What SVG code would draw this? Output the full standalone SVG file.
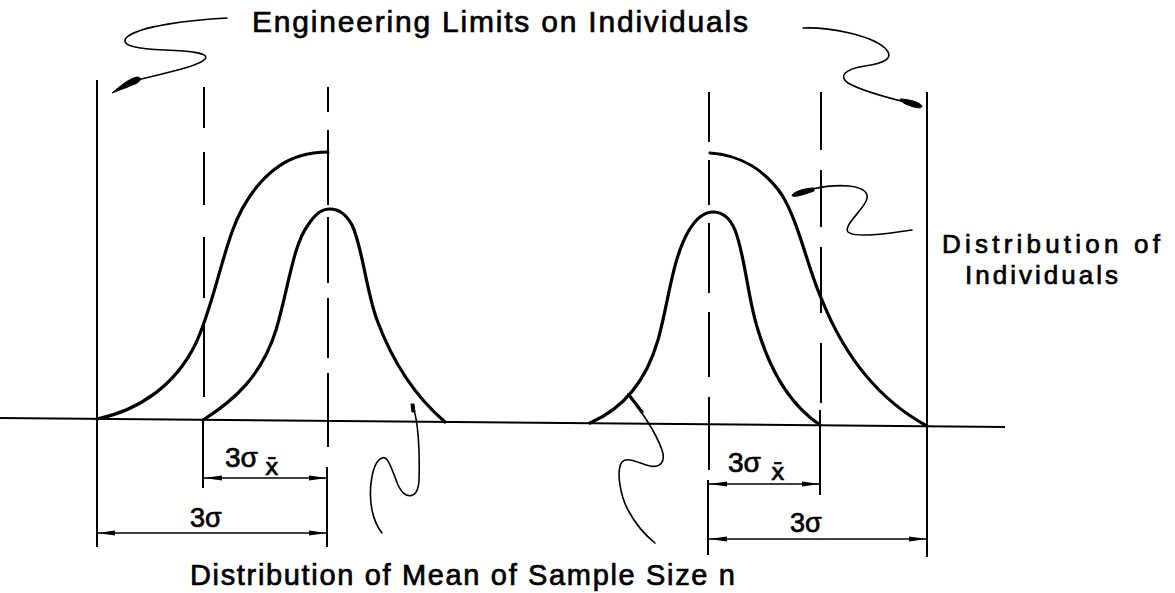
<svg xmlns="http://www.w3.org/2000/svg" width="1175" height="593" viewBox="0 0 1175 593">
  <defs>
    <style>
      .curve { fill: none; stroke: #000; stroke-width: 3.2; stroke-linecap: round; }
      .vline { stroke: #000; stroke-width: 2; fill: none; }
      .base { stroke: #000; stroke-width: 2; fill: none; }
      .dim { stroke: #000; stroke-width: 1.3; fill: none; marker-start: url(#dimArrow); marker-end: url(#dimArrow); }
      .leader { fill: none; stroke: #000; stroke-width: 1.6; stroke-linecap: round; }
      .blob { fill: #000; stroke: #000; stroke-width: 1; }
      .lbl { font-family: "Liberation Sans", Arial, sans-serif; fill: #000; stroke: #000; stroke-width: 0.7; }
    </style>
    <marker id="dimArrow" markerUnits="userSpaceOnUse" viewBox="-20 -4 21 8" refX="0" refY="0" markerWidth="21" markerHeight="8" orient="auto-start-reverse">
      <path d="M0,0 L-18,-2.6 L-18,2.6 Z" fill="#000"/>
    </marker>
  </defs>
  <rect width="1175" height="593" fill="#fff"/>

  <g id="axis">
    <line class="base" x1="0" y1="418" x2="1005" y2="427"/>
  </g>

  <g id="limits-and-centres">
    <line class="vline" x1="97" y1="80" x2="97" y2="547"/>
    <line class="vline" x1="927" y1="92" x2="927" y2="557"/>
    <path class="vline" d="M204,87 V128 M204,152 V205 M204,237 V298 M204,322 V397 M203,420 V488"/>
    <path class="vline" d="M328,87 V112 M328,130 V205 M328,217 V283 M328,298 V358 M328,373 V447 M327,467 V547"/>
    <path class="vline" d="M709,92 V142 M709,160 V205 M709,223 V293 M709,312 V377 M709,397 V470 M708,480 V555"/>
    <path class="vline" d="M821,92 V150 M821,170 V227 M821,247 V313 M821,343 V403 M820,410 V495"/>
  </g>

  <g id="dist-individuals-left">
    <path class="curve" d="M97,419 C140,410 175,385 195,345 C210,315 220,265 232,232 C245,195 270,165 300,156 C310,153 320,152 328,152"/>
  </g>
  <g id="dist-means-left">
    <path class="curve" d="M203,420 C235,400 262,375 276,330 C288,290 293,245 308,225 C316,213 322,209 330,209 C338,209 346,214 352,225 C362,245 366,290 377,320 C390,355 410,392 445,422"/>
  </g>
  <g id="dist-individuals-right">
    <path class="curve" d="M710,153 C740,155 765,170 782,195 C800,225 808,270 822,300 C840,345 870,395 927,426"/>
  </g>
  <g id="dist-means-right">
    <path class="curve" d="M590,423 C620,410 645,385 658,340 C668,305 672,260 688,232 C696,218 704,212 713,212 C722,212 730,218 735,230 C745,255 748,300 758,330 C770,370 790,405 820,425"/>
  </g>

  <g id="connectors">
    <line class="dim" x1="204" y1="478" x2="327" y2="478"/>
    <line class="dim" x1="97" y1="533" x2="327" y2="533"/>
    <line class="dim" x1="709" y1="484" x2="820" y2="484"/>
    <line class="dim" x1="709" y1="539" x2="927" y2="539"/>
    <path class="leader" d="M227,18 C190,20 140,26 127,37 C118,46 140,49 165,50 C190,51 210,53 205,59 C198,67 160,74 138,80"/>
    <path class="blob" d="M112,93 C120,86 130,78 137,77 C142,77 141,82 135,84 C128,87 120,90 112,93 Z"/>
    <path class="leader" d="M803,28 C830,27 870,35 885,48 C895,58 885,63 865,66 C845,69 838,76 848,83 C860,90 885,97 905,102"/>
    <path class="blob" d="M900,99 C908,99 920,102 922,106 C922,109 915,108 908,105 C904,104 901,101 900,99 Z"/>
    <path class="leader" d="M912,230 C885,234 855,238 848,232 C842,225 870,205 867,195 C864,185 840,183 812,189"/>
    <path class="blob" d="M814,188 C806,188 795,191 792,195 C792,198 800,196 814,191 Z"/>
    <path class="leader" d="M413,407 C418,420 420,450 419,480 C418,500 405,500 398,485 C392,470 388,455 382,458 C372,462 368,490 372,510 C374,520 378,528 382,533"/>
    <path class="blob" d="M411,404 L414,404 L415,412 L412,412 Z"/>
    <path class="leader" d="M628,394 C640,410 655,430 662,450 C666,462 660,468 650,466 C640,464 628,456 622,462 C616,470 620,495 628,510 C636,525 645,535 655,543"/>
    <path class="leader" d="M629,395 L642,412" style="stroke-width:3.2"/>
  </g>

  <g id="labels">
    <text class="lbl" x="252" y="32" font-size="30" textLength="496" lengthAdjust="spacing">Engineering  Limits  on  Individuals</text>
    <text class="lbl" x="942" y="253" font-size="26" textLength="218" lengthAdjust="spacing">Distribution  of</text>
    <text class="lbl" x="965" y="284" font-size="26" textLength="153" lengthAdjust="spacing">Individuals</text>
    <text class="lbl" x="190" y="585" font-size="29" textLength="545" lengthAdjust="spacing">Distribution  of  Mean  of  Sample  Size  n</text>
    <text class="lbl" x="225" y="467" font-size="28">3σ<tspan x="265" y="475" font-size="23" font-family="DejaVu Sans, sans-serif">x̄</tspan></text>
    <text class="lbl" x="190" y="527" font-size="27">3σ</text>
    <text class="lbl" x="728" y="472" font-size="28">3σ<tspan x="771" y="480" font-size="23" font-family="DejaVu Sans, sans-serif">x̄</tspan></text>
    <text class="lbl" x="790" y="532" font-size="27">3σ</text>
  </g>
</svg>
